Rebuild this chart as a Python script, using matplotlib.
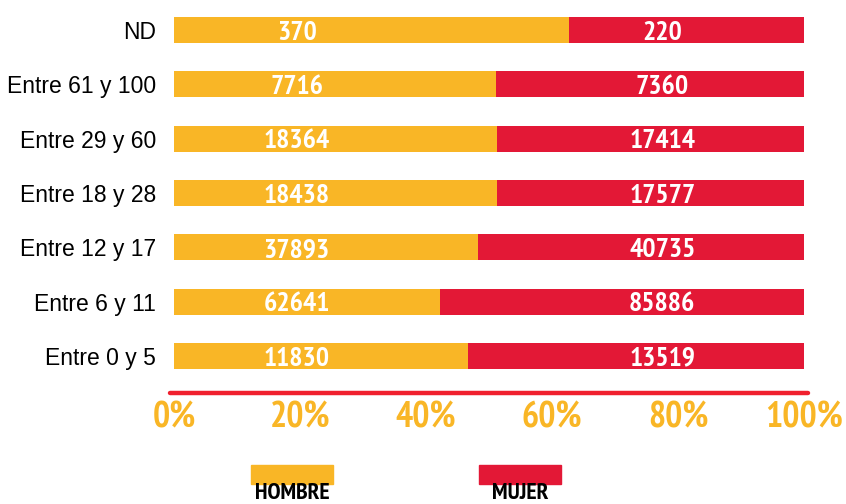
import matplotlib
matplotlib.use("Agg")
import matplotlib.pyplot as plt
from matplotlib.patches import Rectangle

# ---- datos ----
categorias = ["Entre 0 y 5", "Entre 6 y 11", "Entre 12 y 17", "Entre 18 y 28",
              "Entre 29 y 60", "Entre 61 y 100", "ND"]
hombre = [11830, 62641, 37893, 18438, 18364, 7716, 370]
mujer = [13519, 85886, 40735, 17577, 17414, 7360, 220]
ticks_pct = [0, 20, 40, 60, 80, 100]
tick_labels = ["0%", "20%", "40%", "60%", "80%", "100%"]

C_HOMBRE = "#F9B626"
C_MUJER = "#E31836"
C_LINEA = "#F0202E"

COND = ["PT Sans Narrow", "DejaVu Sans"]

fig = plt.figure(figsize=(8.46, 5.04), dpi=100)
W, H = 846, 504
ax = fig.add_axes([170 / W, (H - 393) / H, (808 - 170) / W, 393 / H])

tot = [h + m for h, m in zip(hombre, mujer)]
p_h = [100 * h / t for h, t in zip(hombre, tot)]
p_m = [100 * m / t for m, t in zip(mujer, tot)]
y = list(range(len(categorias)))

ax.barh(y, p_h, height=0.48, color=C_HOMBRE, edgecolor="none")
ax.barh(y, p_m, left=p_h, height=0.48, color=C_MUJER, edgecolor="none")

# etiquetas de valores (posiciones fijas como en el original), linea base bajo el centro
for i in y:
    ax.text(19.5, i - 0.18, str(hombre[i]), color="white", fontsize=20, fontweight="bold",
            family=COND, ha="center", va="baseline")
    ax.text(77.5, i - 0.18, str(mujer[i]), color="white", fontsize=20, fontweight="bold",
            family=COND, ha="center", va="baseline")

ax.set_xlim(-0.63, 100.63)
ax.set_ylim(-0.68, 6.55)

ax.set_yticks(y)
ax.set_yticklabels(categorias, fontsize=16.5, family="Liberation Sans")
ax.tick_params(axis="y", length=0, pad=10)

ax.set_xticks(ticks_pct)
ax.set_xticklabels(tick_labels, fontsize=26, fontweight="bold", family=COND, color=C_HOMBRE)
ax.tick_params(axis="x", length=0, pad=6)

for s in ["top", "right", "left"]:
    ax.spines[s].set_visible(False)
ax.spines["bottom"].set_color(C_LINEA)
ax.spines["bottom"].set_linewidth(3.2)
ax.spines["bottom"].set_capstyle("round")

# leyenda: rectangulos con texto debajo
for x0, x1, col, lab in [(251, 333, C_HOMBRE, "HOMBRE"), (479, 561, C_MUJER, "MUJER")]:
    fig.patches.append(Rectangle((x0 / W, (H - 484) / H), (x1 - x0) / W, 19 / H,
                                 transform=fig.transFigure, color=col))
    fig.text((x0 + x1) / 2 / W, (H - 499) / H, lab, ha="center", va="baseline",
             fontsize=17, fontweight="bold", family=COND, color="black")

fig.savefig("out.png", dpi=100)
